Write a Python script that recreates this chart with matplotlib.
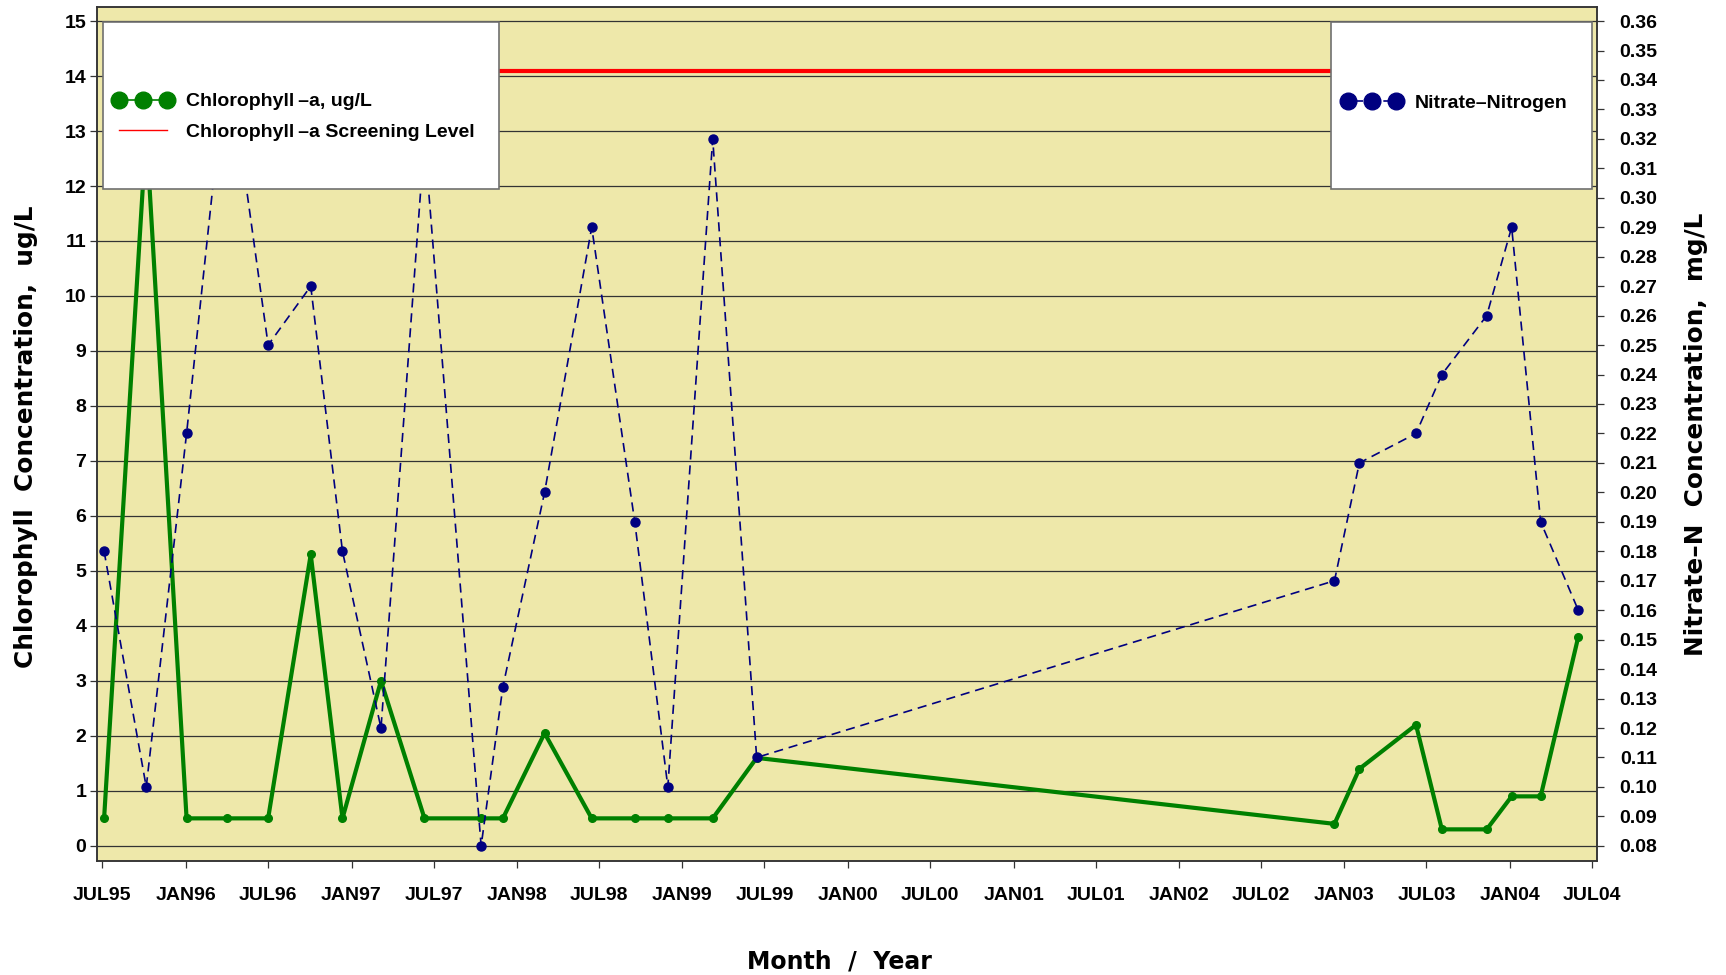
import matplotlib
matplotlib.use('Agg')
import numpy as np
import pandas as pd
import matplotlib.pyplot as plt
from matplotlib.lines import Line2D
from matplotlib.patches import Rectangle
from matplotlib.ticker import FormatStrFormatter

plt.rcParams['font.family'] = ['Liberation Sans', 'DejaVu Sans']
plt.rcParams['font.weight'] = 'bold'

# sampling dates
sample_dates = pd.to_datetime([
    '1995-07-05', '1995-10-06', '1996-01-03', '1996-04-02', '1996-07-01',
    '1996-10-03', '1996-12-12', '1997-03-07', '1997-06-11', '1997-10-14',
    '1997-12-01', '1998-03-03', '1998-06-15', '1998-09-18', '1998-11-30',
    '1999-03-09', '1999-06-14', '2002-12-10', '2003-02-03', '2003-06-08',
    '2003-08-04', '2003-11-11', '2004-01-05', '2004-03-09', '2004-05-31'])

# chlorophyll-a, ug/L
chla = [0.5, 13.0, 0.5, 0.5, 0.5, 5.3, 0.5, 3.0, 0.5, 0.5,
        0.5, 2.05, 0.5, 0.5, 0.5, 0.5, 1.6, 0.4, 1.4, 2.2,
        0.3, 0.3, 0.9, 0.9, 3.8]

# nitrate-nitrogen, mg/L
nitrate = [0.18, 0.10, 0.22, 0.35, 0.25, 0.27, 0.18, 0.12, 0.32, 0.08,
           0.134, 0.20, 0.29, 0.19, 0.10, 0.32, 0.11, 0.17, 0.21, 0.22,
           0.24, 0.26, 0.29, 0.19, 0.16]

screening_level = 14.1

tick_dates = pd.date_range('1995-07-01', '2004-07-01', freq='6MS')
tick_labels = [d.strftime('%b%y').upper() for d in tick_dates]

chl_ticks = np.arange(0, 16)
no3_ticks = np.round(np.arange(0.08, 0.3601, 0.01), 2)

GREEN = '#008000'
NAVY = '#000080'
BG = '#EEE8AA'
GRID = '#333333'
LABEL_FONT = ['DejaVu Sans']

W, H = 1726, 975
fig = plt.figure(figsize=(W / 100, H / 100), dpi=100)
ax1 = fig.add_axes([97.3 / W, 1 - 860.7 / H, 1500 / W, 853.4 / H])
ax1.set_facecolor(BG)

# left axis: chlorophyll
ylo, yhi = -0.27, 15.25
ax1.set_ylim(ylo, yhi)
ax1.set_xlim(pd.Timestamp('1995-06-20'), pd.Timestamp('2004-07-12'))
ax1.set_yticks(chl_ticks)
ax1.yaxis.grid(True, color=GRID, lw=0.9)
ax1.set_axisbelow(True)

ax1.hlines(screening_level, sample_dates.min(), sample_dates.max(),
           color='red', lw=3, zorder=2)
ax1.plot(sample_dates, chla, color=GREEN, lw=3, marker='o', ms=5.5,
         mfc=GREEN, mec=GREEN, zorder=3)

ax1.set_xticks(tick_dates)
ax1.set_xticklabels(tick_labels)
ax1.tick_params(axis='x', length=5, width=0.9, color=GRID, labelsize=14, pad=14)
ax1.tick_params(axis='y', length=5, width=0.9, color=GRID, labelsize=14, pad=3)

# right axis: nitrate, aligned so 0 <-> 0.08 and 15 <-> 0.36
ax2 = ax1.twinx()
ax2.set_ylim(0.08 + ylo * 0.28 / 15, 0.08 + yhi * 0.28 / 15)
ax2.plot(sample_dates, nitrate, color=NAVY, lw=1.2, ls=(0, (5.5, 3.5)),
         marker='o', ms=6.5, mfc=NAVY, mec=NAVY, zorder=3)
ax2.set_yticks(no3_ticks)
ax2.yaxis.set_major_formatter(FormatStrFormatter('%.2f'))
ax2.tick_params(axis='y', length=5, width=0.9, color=GRID, labelsize=14, pad=38)
plt.setp(ax2.get_yticklabels(), ha='right')

for ax in (ax1, ax2):
    for s in ax.spines.values():
        s.set_color(GRID)
        s.set_linewidth(1.1)

ax1.set_ylabel('Chlorophyll  Concentration,  ug/L', family=LABEL_FONT,
               fontsize=17.8, fontweight='bold', va='center')
ax1.yaxis.set_label_coords(-0.0475, 0.497)
ax2.set_ylabel('Nitrate\u2013N  Concentration,  mg/L', family=LABEL_FONT,
               fontsize=17.8, fontweight='bold', va='center', rotation=90)
ax2.yaxis.set_label_coords(1.0658, 0.5)
ax1.set_xlabel('Month  /  Year', family=LABEL_FONT, fontsize=17,
               fontweight='bold', va='center')
ax1.xaxis.set_label_coords(0.495, -0.118)

# legend boxes
for x0, x1 in ((102.7, 499.3), (1331, 1591.7)):
    fig.add_artist(Rectangle((x0 / W, 1 - 189 / H), (x1 - x0) / W, (189 - 21.7) / H,
                             transform=fig.transFigure, facecolor='white',
                             edgecolor='#707070', lw=1.2, zorder=1))

chl_h = Line2D([], [], color=GREEN, lw=1.2, marker='o', ms=12, mfc=GREEN, mec=GREEN)
lvl_h = Line2D([], [], color='red', lw=1)
no3_h = Line2D([], [], color=NAVY, lw=1.2, ls='--', marker='o', ms=12, mfc=NAVY, mec=NAVY)

leg_kw = dict(frameon=False, numpoints=3, handlelength=3.1, handletextpad=0.65,
              borderpad=0, borderaxespad=0, labelspacing=0.68, fontsize=14,
              loc='center left', bbox_transform=fig.transFigure)
fig.legend([chl_h, lvl_h], ['Chlorophyll\u2009\u2013a, ug/L', 'Chlorophyll\u2009\u2013a Screening Level'],
           bbox_to_anchor=(113 / W, 1 - 117 / H), **leg_kw)
fig.legend([no3_h], ['Nitrate\u2013Nitrogen'],
           bbox_to_anchor=(1342 / W, 1 - 103 / H), **leg_kw)

fig.savefig('out.png', dpi=100)
